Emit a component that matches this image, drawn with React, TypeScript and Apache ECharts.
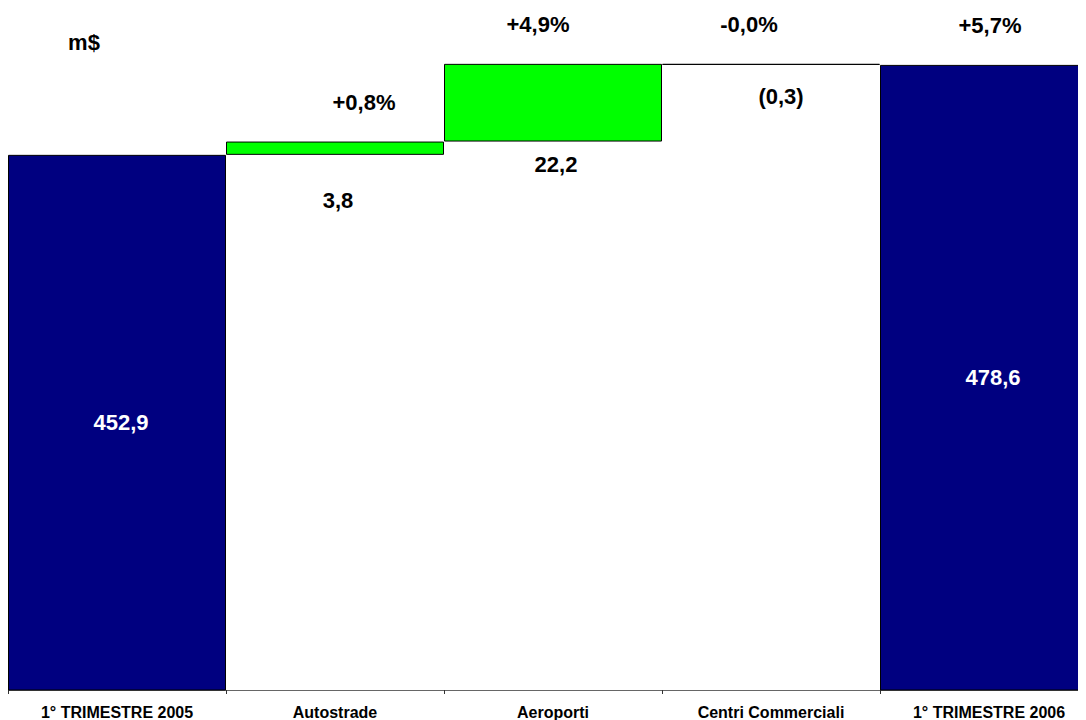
import React, { useEffect, useRef } from "react";
import * as echarts from "echarts";

const categories = [
  "1° TRIMESTRE 2005",
  "Autostrade",
  "Aeroporti",
  "Centri Commerciali",
  "1° TRIMESTRE 2006",
];
const startTotal = 452.9;
const deltas = [3.8, 22.2, -0.3];
const endTotal = 478.6;
const totalLabels = ["452,9", "478,6"];
const deltaLabels = ["3,8", "22,2", "(0,3)"];
const pctLabels = ["+0,8%", "+4,9%", "-0,0%", "+5,7%"];
const unitLabel = "m$";

const NAVY = "#000080";
const GREEN = "#00FF00";
const WHITE = "#FFFFFF";
const FONT = "'Liberation Sans', Arial, sans-serif";

// label offsets (style only)
const deltaLabelOffset = [
  [3, 46],
  [3, 23],
  [10, 32],
];
const pctLabelOffset = [
  [29, -39],
  [-15, -39],
  [-22, -39],
  [1, -39],
];
const totalLabelOffset = [4, 0];

export default function App() {
  const ref = useRef<HTMLDivElement>(null);

  useEffect(() => {
    if (!ref.current) return;
    const chart = echarts.init(ref.current, null, { renderer: "svg" });

    const base: number[] = [0];
    const height: number[] = [startTotal];
    const colors: string[] = [NAVY];
    let running = startTotal;
    deltas.forEach((d) => {
      if (d >= 0) {
        base.push(running);
        height.push(d);
        running += d;
        colors.push(GREEN);
      } else {
        running += d;
        base.push(running);
        height.push(-d);
        colors.push(WHITE);
      }
    });
    base.push(0);
    height.push(endTotal);
    colors.push(NAVY);

    const n = categories.length;

    const deltaData = height.map((h, i) => {
      const isTotal = i === 0 || i === n - 1;
      return {
        value: h,
        itemStyle: { color: colors[i], borderColor: "#000", borderWidth: 1 },
        label: isTotal
          ? {
              show: true,
              position: "inside",
              offset: totalLabelOffset,
              formatter: totalLabels[i === 0 ? 0 : 1],
              color: "#fff",
              fontWeight: "bold",
              fontSize: 22,
              fontFamily: FONT,
              textBorderWidth: 0,
            }
          : { show: false },
      };
    });

    const pctData = pctLabels.map((t, k) => {
      const i = k + 1;
      return {
        value: [categories[i], base[i] + height[i]],
        label: { formatter: t, offset: pctLabelOffset[k] },
      };
    });

    const valData = deltaLabels.map((t, k) => {
      const i = k + 1;
      return {
        value: [categories[i], base[i]],
        label: { formatter: t, offset: deltaLabelOffset[k] },
      };
    });

    const labelStyle = {
      show: true,
      position: "inside",
      color: "#000",
      opacity: 1,
      fontWeight: "bold",
      fontSize: 22,
      fontFamily: FONT,
      textBorderWidth: 0,
      textBorderColor: "transparent",
    };

    chart.setOption({
      animation: false,
      backgroundColor: "#fff",
      grid: { left: 0, top: 52, width: 1090, height: 630 },
      xAxis: {
        type: "category",
        data: categories,
        boundaryGap: true,
        axisLine: { lineStyle: { color: "#666", width: 1 } },
        axisTick: { show: true, length: 4, lineStyle: { color: "#333" } },
        axisLabel: {
          color: "#000",
          fontWeight: "bold",
          fontSize: 16,
          fontFamily: FONT,
          margin: 14,
          interval: 0,
        },
      },
      yAxis: {
        type: "value",
        min: 300,
        max: 480,
        show: false,
        splitLine: { show: false },
      },
      graphic: [
        {
          type: "text",
          x: 76,
          y: 34,
          style: {
            text: unitLabel,
            fill: "#000",
            font: `bold 22px ${FONT}`,
            align: "center",
            verticalAlign: "middle",
          },
        },
      ],
      series: [
        {
          type: "bar",
          stack: "w",
          data: base,
          barCategoryGap: "0%",
          itemStyle: { color: "transparent" },
          silent: true,
        },
        {
          type: "bar",
          stack: "w",
          data: deltaData,
          barCategoryGap: "0%",
        },
        {
          type: "scatter",
          data: pctData,
          symbolSize: 0,
          itemStyle: { color: "#fff", opacity: 1 },
          label: labelStyle,
          silent: true,
        },
        {
          type: "scatter",
          data: valData,
          symbolSize: 0,
          itemStyle: { color: "#fff", opacity: 1 },
          label: labelStyle,
          silent: true,
        },
      ],
    });

    return () => chart.dispose();
  }, []);

  return (
    <div style={{ width: 1078, height: 712, overflow: "hidden" }}>
      <div ref={ref} style={{ width: 1090, height: 712 }} />
    </div>
  );
}
